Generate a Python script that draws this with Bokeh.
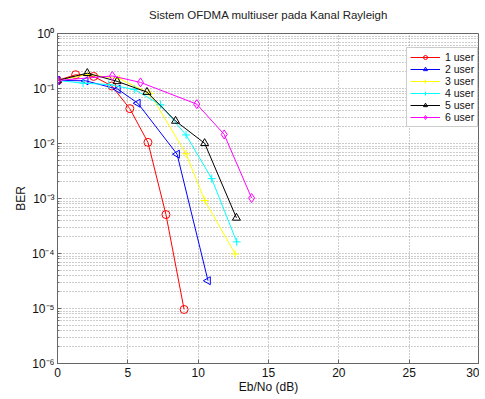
import math
from bokeh.plotting import figure
from bokeh.models import FixedTicker, Legend, LegendItem, Title
from bokeh.embed import file_html
from bokeh.resources import INLINE

# ---- data ----
ebno_1 = [0, 1.29, 2.57, 3.86, 5.14, 6.43, 7.71, 9.0]
ber_1 = [0.14, 0.178, 0.166, 0.111, 0.043, 0.0105, 5.1e-4, 9.6e-6]

ebno_2 = [0, 2.0, 4.29, 5.71, 8.5, 10.7]
ber_2 = [0.14, 0.138, 0.097, 0.054, 0.0064, 3.2e-5]

ebno_3 = [0, 2.2, 4.4, 6.56, 9.14, 10.47, 12.63]
ber_3 = [0.14, 0.18, 0.15, 0.082, 0.0065, 9.2e-4, 9.8e-5]

ebno_4 = [0, 1.82, 3.64, 5.46, 7.32, 9.14, 10.96, 12.74]
ber_4 = [0.14, 0.125, 0.118, 0.096, 0.0506, 0.0143, 0.0023, 1.63e-4]

ebno_5 = [0, 2.12, 4.24, 6.36, 8.39, 10.46, 12.72]
ber_5 = [0.14, 0.19, 0.135, 0.086, 0.0257, 0.0101, 4.45e-4]

ebno_6 = [0, 3.9, 5.9, 9.9, 11.85, 13.8]
ber_6 = [0.14, 0.169, 0.129, 0.052, 0.0146, 1.02e-3]

series_labels = ["1 user", "2 user", "3 user", "4 user", "5 user", "6 user"]
x_ticks = [0, 5, 10, 15, 20, 25, 30]
y_exps = [0, -1, -2, -3, -4, -5, -6]
title_text = "Sistem OFDMA multiuser pada Kanal Rayleigh"

SUP = str.maketrans("-0123456789", "⁻⁰¹²³⁴⁵⁶⁷⁸⁹")

FONT = "Liberation Sans"
FW, FH = 422, 330

p = figure(x_range=(0, 30), y_range=(1e-6, 1),
           y_axis_type="log", output_backend="svg", toolbar_location=None,
           frame_width=FW, frame_height=FH,
           min_border_left=57, min_border_right=0, min_border_top=33,
           min_border_bottom=22)
p.background_fill_color = "white"
p.border_fill_color = "white"
p.outline_line_color = "#666666"
p.outline_line_width = 1

# spacer between frame and title, then the title itself
p.add_layout(Title(text=" ", text_font_size="9px", standoff=0, align="center"), "above")
p.add_layout(Title(text=title_text, align="center", text_font=FONT,
                   text_font_size="11.5px", text_font_style="normal",
                   text_color="#222222", standoff=2), "above")

# axes
p.xaxis.ticker = FixedTicker(ticks=x_ticks)
yt = [10.0 ** e for e in y_exps]
minor = [k * 10.0 ** e for e in range(-6, 0) for k in range(2, 10)]
p.yaxis.ticker = FixedTicker(ticks=yt, minor_ticks=minor)
p.yaxis.major_label_overrides = {10.0 ** e: "10" + str(e).translate(SUP) for e in y_exps}

for ax in (p.xaxis, p.yaxis):
    ax.axis_line_color = "#666666"
    ax.major_tick_in = 4
    ax.major_tick_out = 0
    ax.minor_tick_in = 2
    ax.minor_tick_out = 0
    ax.major_tick_line_color = "#666666"
    ax.minor_tick_line_color = "#666666"
    ax.major_label_text_font = FONT
    ax.major_label_text_font_size = "12px"
    ax.major_label_text_color = "#111111"
    ax.axis_label_text_font = FONT
    ax.axis_label_text_font_size = "12px"
    ax.axis_label_text_font_style = "normal"
    ax.axis_label_text_color = "#111111"
p.xaxis.minor_tick_line_color = None
p.xaxis.major_label_standoff = 4
p.yaxis.major_label_standoff = 3
p.xaxis.axis_label = "Eb/No (dB)"
p.yaxis.axis_label = "BER"
p.xaxis.axis_label_standoff = 0
p.yaxis.axis_label_standoff = 1

# grids
for g in (p.xgrid, p.ygrid):
    g.grid_line_color = "#9a9a9a"
    g.grid_line_dash = "1 2"
    g.grid_line_width = 1
p.ygrid.minor_grid_line_color = "#9a9a9a"
p.ygrid.minor_grid_line_dash = "1 2"

xs = [ebno_1, ebno_2, ebno_3, ebno_4, ebno_5, ebno_6]
ys = [ber_1, ber_2, ber_3, ber_4, ber_5, ber_6]
colors = ["#ff0000", "#0000ff", "#ffff00", "#00ffff", "#000000", "#ff00ff"]
markers = ["circle", "triangle", "cross", "cross", "triangle", "diamond"]
angles = [0, math.pi / 2, 0, 0, 0, 0]
sizes = [8, 8, 8, 8, 8, 9]

items = []
for x, y, c, m, a, s, lab in zip(xs, ys, colors, markers, angles, sizes, series_labels):
    r1 = p.line(x, y, line_color=c, line_width=1)
    r2 = p.scatter(x, y, marker=m, size=s, angle=a, line_color=c,
                   fill_color=None, line_width=1)
    items.append(LegendItem(label=lab, renderers=[r1, r2]))

legend = Legend(items=items, location=(349, 236))
legend.label_text_font = FONT
legend.label_text_font_size = "10.5px"
legend.label_text_color = "#111111"
legend.glyph_width = 30
legend.glyph_height = 10
legend.label_height = 10
legend.label_standoff = 5
legend.spacing = 0
legend.padding = 3
legend.margin = 0
legend.border_line_color = "#999999"
legend.background_fill_color = "white"
legend.background_fill_alpha = 1
p.add_layout(legend, "center")

open("out.html", "w").write(file_html(p, INLINE))
